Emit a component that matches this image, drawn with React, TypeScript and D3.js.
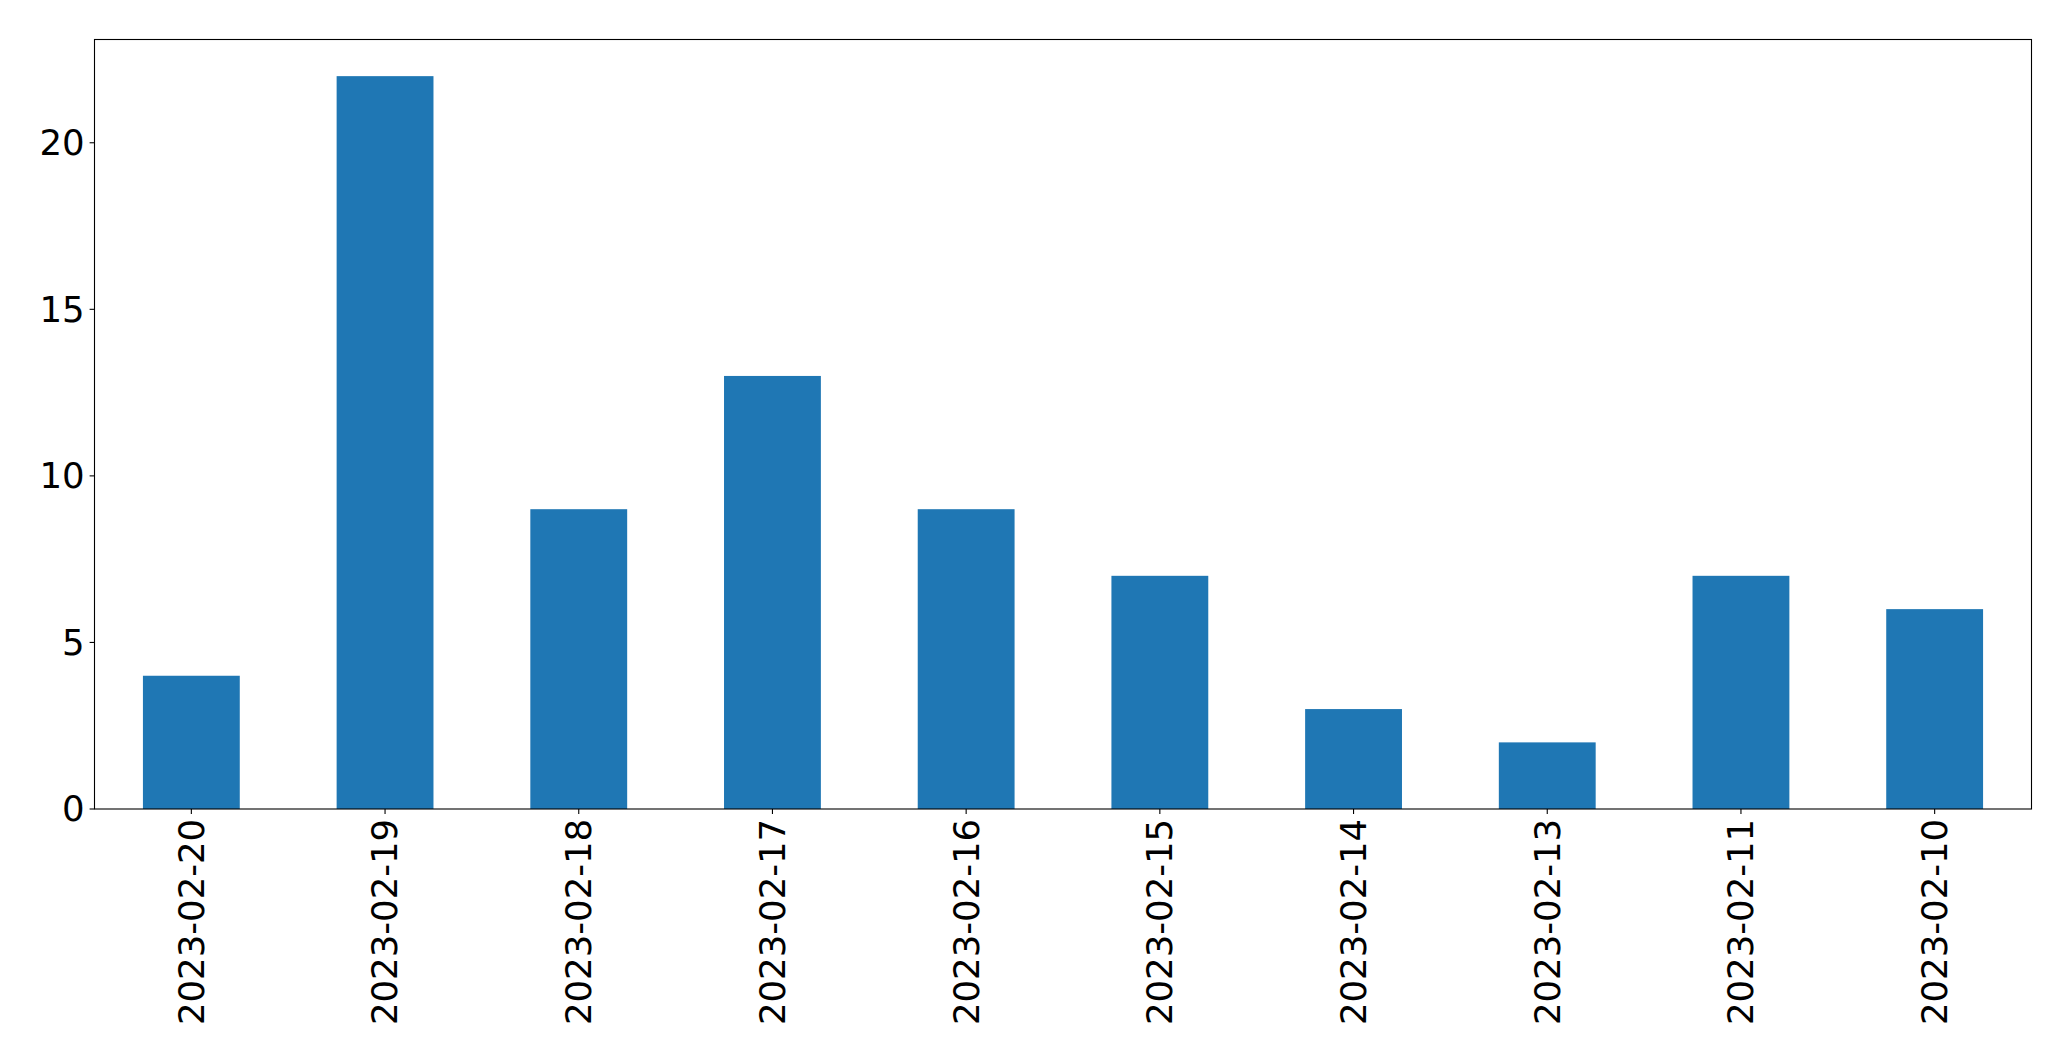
import { useEffect } from 'react';
import * as d3 from 'd3';

// Données
const categories = [
    '2023-02-20', '2023-02-19', '2023-02-18', '2023-02-17', '2023-02-16',
    '2023-02-15', '2023-02-14', '2023-02-13', '2023-02-11', '2023-02-10',
];
const counts = [4, 22, 9, 13, 9, 7, 3, 2, 7, 6];
const yTicks = [0, 5, 10, 15, 20];

const W = 2071;
const H = 1061;
const plot = { left: 94.5, right: 2031.5, top: 39.5, bottom: 809 };
const FONT = '"DejaVu Sans", sans-serif';
const FS = 35.5;
const TICK = 4.9;
const PAD = 4.9;

export default function App() {
    useEffect(() => {
        document.body.style.margin = '0';
    }, []);

    const x = d3.scaleBand<string>()
        .domain(categories)
        .range([plot.left, plot.right])
        .paddingInner(0.5)
        .paddingOuter(0.25);

    const y = d3.scaleLinear()
        .domain([0, d3.max(counts)! * 1.05])
        .range([plot.bottom, plot.top]);

    return (
        <svg width={W} height={H} style={{ display: 'block', background: '#fff' }}>
            {/* barres */}
            {categories.map((c, i) => (
                <rect
                    key={c}
                    x={x(c)}
                    y={y(counts[i])}
                    width={x.bandwidth()}
                    height={y(0) - y(counts[i])}
                    fill="#1f77b4"
                />
            ))}

            {/* cadre */}
            <rect
                x={plot.left}
                y={plot.top}
                width={plot.right - plot.left}
                height={plot.bottom - plot.top}
                fill="none"
                stroke="#000"
                strokeWidth={1.1}
            />

            {/* axe Y */}
            {yTicks.map(t => (
                <g key={t} transform={`translate(0,${y(t)})`}>
                    <line x1={plot.left - TICK} x2={plot.left} stroke="#000" strokeWidth={1.1} />
                    <text
                        x={plot.left - TICK - PAD}
                        dy="0.35em"
                        textAnchor="end"
                        fontFamily={FONT}
                        fontSize={FS}
                        fill="#000"
                    >
                        {t}
                    </text>
                </g>
            ))}

            {/* axe X */}
            {categories.map(c => {
                const cx = x(c)! + x.bandwidth() / 2;
                return (
                    <g key={c}>
                        <line x1={cx} x2={cx} y1={plot.bottom} y2={plot.bottom + TICK} stroke="#000" strokeWidth={1.1} />
                        <text
                            transform={`translate(${cx},${plot.bottom + TICK + PAD}) rotate(-90)`}
                            dy="0.35em"
                            textAnchor="end"
                            fontFamily={FONT}
                            fontSize={FS}
                            fill="#000"
                        >
                            {c}
                        </text>
                    </g>
                );
            })}
        </svg>
    );
}
